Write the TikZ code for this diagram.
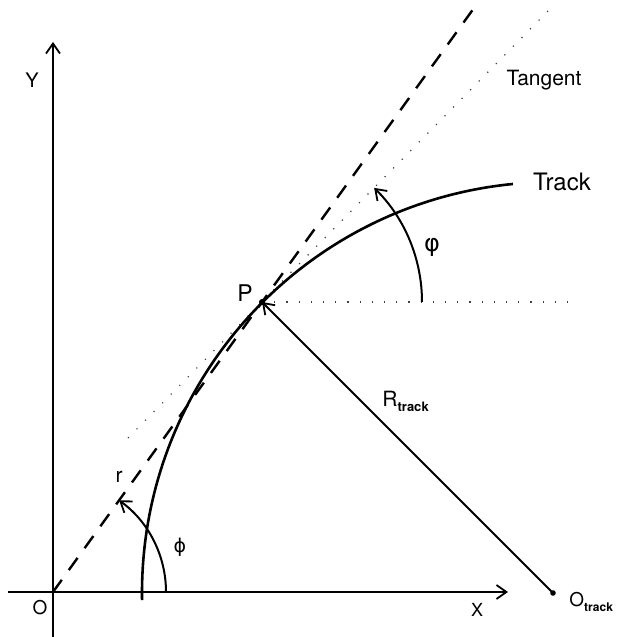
\documentclass[tikz,border=0pt]{standalone}
\usepackage{fontspec}
\setmainfont{TeX Gyre Heros}
\newfontfamily\grk{DejaVu Sans}
\usetikzlibrary{arrows.meta}
\begin{document}
\begin{tikzpicture}[x=0.5pt,y=0.5pt,
  barb/.style={-{Straight Barb[length=5pt,width=7pt,line width=0.9pt]}},
  axisline/.style={line width=0.9pt,barb},
  rline/.style={line width=1.2pt,dash pattern=on 7.5pt off 6pt},
  dotline/.style={line width=0.6pt,black!75,dash pattern=on 0.6pt off 5.5pt},
  trackline/.style={line width=1.3pt},
  anglearrow/.style={line width=1pt,barb},
  lbl/.style={inner sep=0pt,font=\fontsize{10}{12}\selectfont}]
\useasboundingbox (0,0) rectangle (620,637);
% key points
\coordinate (O) at (53,45);
\coordinate (Xend) at (508,45);
\coordinate (Xstart) at (8,45);
\coordinate (Yend) at (53,595);
\coordinate (Ystart) at (53,0);
\coordinate (P) at (262,335);
\coordinate (C) at (553,44);
\coordinate (Rtop) at (474,629);
\coordinate (Ttop) at (548,626);
\coordinate (Tbot) at (128,199);
\coordinate (H) at (570,335);
% axes
\draw[axisline] (Xstart) -- (Xend);
\draw[axisline] (Ystart) -- (Yend);
% radius vector r (dashed)
\draw[rline] (O) -- (Rtop);
% tangent (dotted)
\draw[dotline] (Tbot) -- (Ttop);
\draw[dotline] (P) -- (H);
% track
\draw[trackline] (C) ++(181:205.5pt) arc[start angle=181,end angle=95.6,radius=205.5pt];
% radius of track
\draw[line width=1pt,barb] (C) -- (P);
\fill (P) circle (1.5pt);
\fill (C) circle (1.4pt);
% angles
\draw[anglearrow] (P) ++(0:80pt) arc[start angle=0,end angle=45.5,radius=80pt];
\draw[anglearrow] (O) ++(0:56.5pt) arc[start angle=0,end angle=54.2,radius=56.5pt];
% labels
\node[lbl,font=\fontsize{10}{12}\selectfont] (ylab) at (32,557) {Y};
\node[lbl,font=\fontsize{9.5}{12}\selectfont] (olab) at (40,29) {O};
\node[lbl,font=\fontsize{9}{12}\selectfont] (xlab) at (477,27) {X};
\node[lbl,anchor=west,font=\fontsize{9.5}{12}\selectfont] (otlab) at (569,35) {O\raisebox{-0.45ex}{\fontsize{6}{7}\selectfont\bfseries track}};
\node[lbl,font=\fontsize{10.5}{12}\selectfont] (tanlab) at (544,557) {Tangent};
\node[lbl,font=\fontsize{12}{14}\selectfont] (trlab) at (562,455) {Track};
\node[lbl,font=\fontsize{11.5}{14}\selectfont] (plab) at (245,344) {P};
\node[lbl,font=\fontsize{12}{14}\selectfont\grk] (vphilab) at (432,390) {φ};
\node[lbl,font=\fontsize{9.5}{12}\selectfont\grk] (philab) at (180,90) {ϕ};
\node[lbl,font=\fontsize{10.5}{12}\selectfont] (rlab) at (119,160) {r};
\node[lbl,anchor=west,font=\fontsize{10.5}{12}\selectfont] (Rlab) at (382,236) {R\raisebox{-0.45ex}{\fontsize{6.5}{7}\selectfont\bfseries track}};
\end{tikzpicture}
\end{document}
